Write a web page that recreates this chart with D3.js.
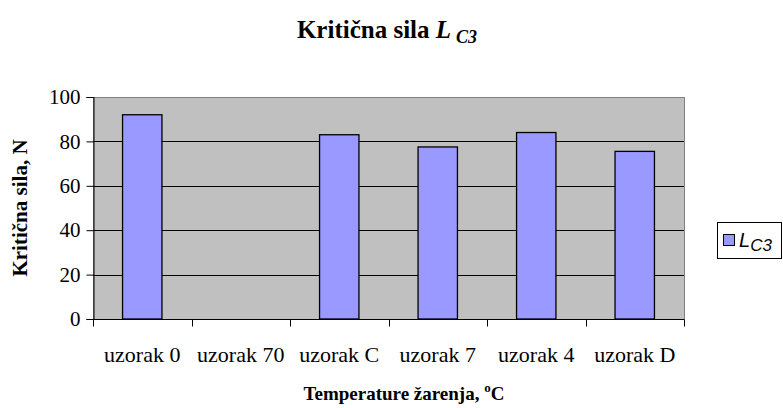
<!DOCTYPE html>
<html>
<head>
<meta charset="utf-8">
<script src="https://cdn.jsdelivr.net/npm/d3@7"></script>
<style>
  html, body { margin: 0; padding: 0; background: #fff; }
  svg { display: block; }
</style>
</head>
<body>
<svg id="chart" width="783" height="408"></svg>
<script>
// Sample names along the x axis
const categories = ["uzorak 0", "uzorak 70", "uzorak C", "uzorak 7", "uzorak 4", "uzorak D"];
// Critical load L_C3 (N); uzorak 70 has no measurement
const lc3Values = [92, null, 83, 77.5, 84, 75.5];
// Value axis ticks
const yTicks = [0, 20, 40, 60, 80, 100];

const serif = "'Liberation Serif', 'Times New Roman', serif";
const svg = d3.select("#chart");
const plot = { left: 93, top: 97, right: 684, bottom: 319 };

const x = d3.scaleBand()
  .domain(categories)
  .range([plot.left, plot.right])
  .paddingInner(0)
  .paddingOuter(0);

const y = d3.scaleLinear()
  .domain([0, 100])
  .range([plot.bottom, plot.top]);

// Plot area background
svg.append("rect")
  .attr("x", plot.left + 0.5).attr("y", plot.top + 0.5)
  .attr("width", plot.right - plot.left)
  .attr("height", plot.bottom - plot.top)
  .attr("fill", "#C0C0C0")
  .attr("stroke", "#808080")
  .attr("stroke-width", 1);

// Horizontal gridlines
svg.append("g")
  .selectAll("line")
  .data(yTicks.filter(d => d > 0 && d < 100))
  .join("line")
  .attr("x1", plot.left).attr("x2", plot.right)
  .attr("y1", d => Math.round(y(d)) + 0.5)
  .attr("y2", d => Math.round(y(d)) + 0.5)
  .attr("stroke", "#000")
  .attr("stroke-width", 1);

// Bars (Excel-style gap width of 150%)
const barW = x.bandwidth() / 2.5;
svg.append("g")
  .selectAll("rect")
  .data(categories.map((c, i) => ({ c, v: lc3Values[i] })).filter(d => d.v != null))
  .join("rect")
  .attr("x", d => x(d.c) + (x.bandwidth() - barW) / 2)
  .attr("y", d => y(d.v))
  .attr("width", barW)
  .attr("height", d => y(0) - y(d.v))
  .attr("fill", "#9999FF")
  .attr("stroke", "#000")
  .attr("stroke-width", 1.3);

// Y axis
const yAxis = d3.axisLeft(y).tickValues(yTicks).tickSize(7).tickPadding(6);
const gy = svg.append("g")
  .attr("transform", `translate(${plot.left + 0.5},0)`)
  .call(yAxis);
gy.selectAll("text")
  .attr("font-family", serif)
  .attr("font-size", 21)
  .attr("fill", "#000");
gy.selectAll("line, path").attr("stroke", "#000");

// X axis with ticks on category boundaries
const gx = svg.append("g")
  .attr("transform", `translate(0,${plot.bottom + 0.5})`);
gx.append("line")
  .attr("x1", plot.left).attr("x2", plot.right)
  .attr("stroke", "#000");
const bounds = categories.map(c => x(c)).concat([plot.right]);
gx.selectAll("line.tick")
  .data(bounds)
  .join("line")
  .attr("class", "tick")
  .attr("x1", d => Math.round(d) + 0.5).attr("x2", d => Math.round(d) + 0.5)
  .attr("y1", 0).attr("y2", 7)
  .attr("stroke", "#000");
gx.selectAll("text")
  .data(categories)
  .join("text")
  .attr("x", d => x(d) + x.bandwidth() / 2)
  .attr("y", 42)
  .attr("text-anchor", "middle")
  .attr("font-family", serif)
  .attr("font-size", 22)
  .text(d => d);

// Chart title
const title = svg.append("text")
  .attr("x", 387).attr("y", 38)
  .attr("text-anchor", "middle")
  .attr("font-family", serif)
  .attr("font-weight", "bold")
  .attr("font-size", 25);
title.append("tspan").text("Kritična sila ");
title.append("tspan").attr("font-style", "italic").text("L");
title.append("tspan").attr("font-style", "italic").attr("font-size", 18).attr("dx", 5).attr("dy", 5).text("C3");

// Y axis title
svg.append("text")
  .attr("transform", `translate(27,${(plot.top + plot.bottom) / 2}) rotate(-90)`)
  .attr("text-anchor", "middle")
  .attr("font-family", serif)
  .attr("font-weight", "bold")
  .attr("font-size", 21)
  .text("Kritična sila, N");

// X axis title
const xt = svg.append("text")
  .attr("x", 404).attr("y", 400)
  .attr("text-anchor", "middle")
  .attr("font-family", serif)
  .attr("font-weight", "bold")
  .attr("font-size", 19);
xt.append("tspan").text("Temperature žarenja, ");
xt.append("tspan").attr("font-size", 13).attr("dy", -8).text("o");
xt.append("tspan").attr("dy", 8).text("C");

// Legend
const lg = svg.append("g").attr("transform", "translate(717,222)");
lg.append("rect")
  .attr("x", 0.5).attr("y", 0.5)
  .attr("width", 64).attr("height", 36)
  .attr("fill", "#fff")
  .attr("stroke", "#000");
lg.append("rect")
  .attr("x", 6.5).attr("y", 12.5)
  .attr("width", 11).attr("height", 11)
  .attr("fill", "#9999FF")
  .attr("stroke", "#000");
const lt = lg.append("text")
  .attr("x", 22).attr("y", 25)
  .attr("font-family", "'Liberation Sans', Arial, sans-serif")
  .attr("font-size", 20);
lt.append("tspan").attr("font-style", "italic").text("L");
lt.append("tspan").attr("font-style", "italic").attr("font-size", 17).attr("dy", 4).text("C3");
</script>
</body>
</html>
